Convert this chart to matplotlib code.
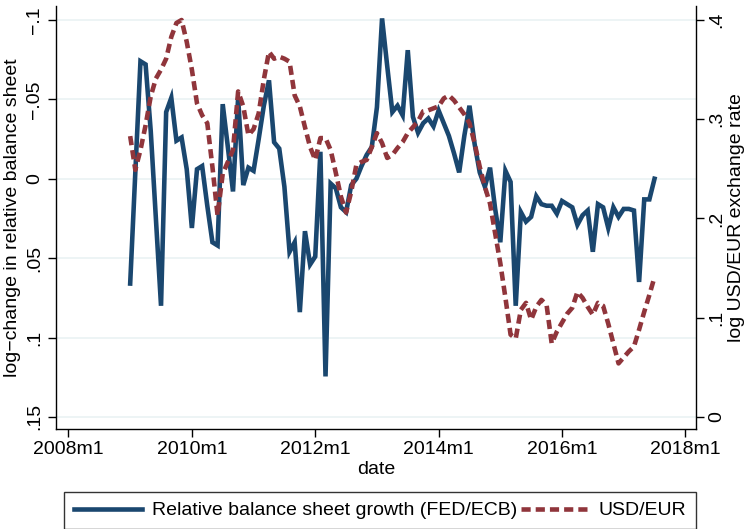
import numpy as np
import matplotlib.pyplot as plt
from matplotlib.lines import Line2D

plt.rcParams['font.family'] = ['Liberation Sans', 'DejaVu Sans']

# monthly data, 2009m1 .. 2017m7 (month index counted from 2008m1)
start_month = 12
balance_growth = [
    0.066, -0.004, -0.074, -0.072, -0.030, 0.025, 0.080, -0.042, -0.051, -0.024,
    -0.026, -0.006, 0.031, -0.006, -0.008, 0.017, 0.040, 0.042, -0.047, -0.020,
    0.008, -0.051, 0.004, -0.007, -0.005, -0.025, -0.046, -0.062, -0.023, -0.019,
    0.005, 0.046, 0.040, 0.084, 0.033, 0.054, 0.049, -0.017, 0.1245, 0.003,
    0.006, 0.018, 0.021, 0.004, 0.000, -0.008, -0.015, -0.020, -0.045, -0.101,
    -0.071, -0.042, -0.046, -0.040, -0.081, -0.039, -0.029, -0.035, -0.038, -0.033,
    -0.043, -0.035, -0.027, -0.016, -0.004, -0.027, -0.046, -0.022, -0.004, 0.005,
    -0.007, 0.019, 0.040, -0.005, 0.002, 0.080, 0.021, 0.027, 0.024, 0.011,
    0.016, 0.017, 0.017, 0.022, 0.014, 0.016, 0.018, 0.029, 0.023, 0.020,
    0.046, 0.016, 0.018, 0.031, 0.018, 0.024, 0.019, 0.019, 0.020, 0.065,
    0.013, 0.013, 0.000,
]
usd_eur = [
    0.283, 0.249, 0.269, 0.294, 0.323, 0.341, 0.350, 0.361, 0.383, 0.397,
    0.400, 0.378, 0.350, 0.316, 0.304, 0.296, 0.252, 0.203, 0.245, 0.257,
    0.269, 0.328, 0.313, 0.284, 0.290, 0.306, 0.340, 0.368, 0.361, 0.363,
    0.361, 0.358, 0.324, 0.313, 0.292, 0.272, 0.259, 0.281, 0.281, 0.269,
    0.246, 0.222, 0.206, 0.227, 0.254, 0.257, 0.259, 0.272, 0.286, 0.276,
    0.261, 0.264, 0.271, 0.277, 0.286, 0.292, 0.298, 0.308, 0.309, 0.311,
    0.313, 0.321, 0.324, 0.319, 0.312, 0.305, 0.296, 0.276, 0.252, 0.232,
    0.215, 0.185, 0.155, 0.120, 0.083, 0.079, 0.108, 0.115, 0.098, 0.111,
    0.118, 0.113, 0.074, 0.086, 0.095, 0.104, 0.110, 0.126, 0.120, 0.111,
    0.103, 0.115, 0.112, 0.094, 0.074, 0.054, 0.060, 0.066, 0.071, 0.088,
    0.106, 0.123, 0.141,
]
xtick_pos = [0, 24, 48, 72, 96, 120]
xtick_labels = ['2008m1', '2010m1', '2012m1', '2014m1', '2016m1', '2018m1']
left_ticks = [-0.1, -0.05, 0, 0.05, 0.1, 0.15]
left_labels = ['\u2212.1', '\u2212.05', '0', '.05', '.1', '.15']
right_ticks = [0, 0.1, 0.2, 0.3, 0.4]
right_labels = ['0', '.1', '.2', '.3', '.4']

months = np.arange(len(balance_growth)) + start_month

navy = '#1a476f'
maroon = '#90353b'
fs = 14

fig = plt.figure(figsize=(7.49, 5.29), dpi=100)
ax = fig.add_axes([56 / 749, 1 - 429 / 529, 640 / 749, 423 / 529])
ax2 = ax.twinx()

ax.plot(months, balance_growth, color=navy, lw=3.3, solid_joinstyle='miter')
ax2.plot(months, usd_eur, color=maroon, lw=3.3, dashes=(2.0, 1.1),
         dash_capstyle='butt')

ax.set_xlim(-2.43, 122.07)
ax.set_ylim(0.1576, -0.1088)
ax2.set_ylim(-0.0121, 0.4141)

for y in left_ticks:
    ax.axhline(y, color='#eaf2f3', lw=1.2, zorder=0)

ax.set_xticks(xtick_pos)
ax.set_xticklabels(xtick_labels, fontsize=fs)
ax.set_yticks(left_ticks)
ax.set_yticklabels(left_labels, fontsize=fs, rotation=90, va='center')
ax2.set_yticks(right_ticks)
ax2.set_yticklabels(right_labels, fontsize=fs, rotation=90, va='center')

for a in (ax, ax2):
    a.tick_params(direction='out', length=6, width=1, color='black', pad=3)
    a.spines['top'].set_visible(False)
    for s in a.spines.values():
        s.set_linewidth(1)
ax.spines['right'].set_visible(False)
ax2.spines['left'].set_visible(False)
ax2.spines['bottom'].set_visible(False)

ax.set_xlabel('date', fontsize=fs, labelpad=2)
ax.set_ylabel('log\u2212change in relative balance sheet', fontsize=fs, labelpad=4)
ax2.set_ylabel('log USD/EUR exchange rate', fontsize=fs, labelpad=2)

handles = [Line2D([], [], color=navy, lw=3.3),
           Line2D([], [], color=maroon, lw=3.3, dashes=(2.0, 1.1))]
leg = fig.legend(handles, ['Relative balance sheet growth (FED/ECB)', 'USD/EUR'],
                 loc='upper left', bbox_to_anchor=(64 / 749, 1 - 492 / 529),
                 ncol=2, fontsize=fs, frameon=True, fancybox=False,
                 edgecolor='black', handlelength=3.5, handletextpad=0.5,
                 columnspacing=0.2, borderpad=0.5, borderaxespad=0)
leg.get_frame().set_linewidth(1)

fig.savefig('out.png', dpi=100, facecolor='white')
